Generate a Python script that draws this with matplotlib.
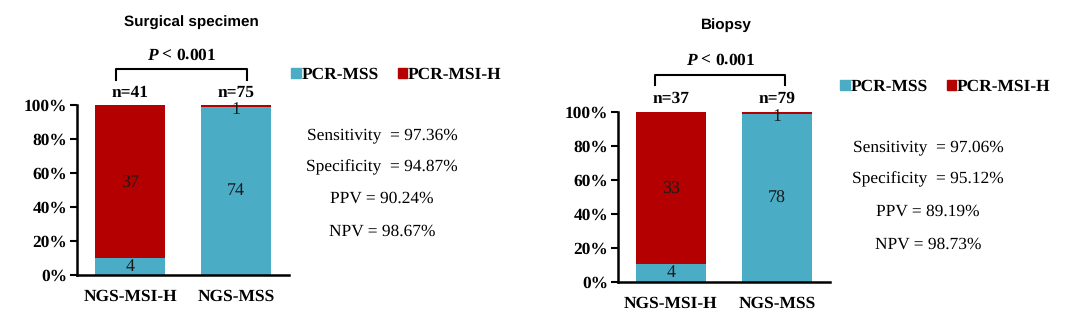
import numpy as np
import matplotlib
matplotlib.use('Agg')
import matplotlib.pyplot as plt
from matplotlib.patches import Patch

plt.rcParams['text.hinting'] = 'no_hinting'
plt.rcParams['mathtext.fontset'] = 'custom'
plt.rcParams['mathtext.bfit'] = 'Liberation Serif:bold:italic'
plt.rcParams['mathtext.it'] = 'Liberation Serif:bold:italic'

# dados
grupos = ['NGS-MSI-H', 'NGS-MSS']
cirurgia_mss = [4, 74]
cirurgia_msi = [37, 1]
biopsia_mss = [4, 78]
biopsia_msi = [33, 1]
titulos = ['Surgical specimen', 'Biopsy']
estat_cirurgia = ['Sensitivity  = 97.36%', 'Specificity  = 94.87%', 'PPV = 90.24%', 'NPV = 98.67%']
estat_biopsia = ['Sensitivity  = 97.06%', 'Specificity  = 95.12%', 'PPV = 89.19%', 'NPV = 98.73%']

AZUL = '#4BACC6'
VERMELHO = '#B40000'
SERIF = 'Liberation Serif'
TAM = 12.5

fig = plt.figure(figsize=(10.8, 3.26), dpi=100)

paineis = [
    dict(pos=[77/1080, 51/326, 212/1080, 170/326], mss=cirurgia_mss, msi=cirurgia_msi,
         titulo=titulos[0], ty=148, tx=0.58, py=129, by=(121, 115), bx=(-0.13, 1.1), ny=107,
         leg=(291/1080, 1 - 75/326), est=estat_cirurgia, ex=382, ey=[135, 167, 199, 232]),
    dict(pos=[618/1080, 44/326, 212/1080, 170/326], mss=biopsia_mss, msi=biopsia_msi,
         titulo=titulos[1], ty=151, tx=0.52, py=130, by=(122, 116), bx=(-0.15, 1.08), ny=108,
         leg=(840/1080, 1 - 87/326), est=estat_biopsia, ex=928, ey=[147, 179, 212, 245]),
]

for p in paineis:
    ax = fig.add_axes(p['pos'])
    mss = np.array(p['mss'], dtype=float)
    msi = np.array(p['msi'], dtype=float)
    total = mss + msi
    pct_mss = mss / total * 100
    pct_msi = msi / total * 100
    x = np.arange(len(grupos))
    ax.bar(x, pct_mss, width=0.66, color=AZUL, label='PCR-MSS')
    ax.bar(x, pct_msi, width=0.66, bottom=pct_mss, color=VERMELHO, label='PCR-MSI-H')

    # números dentro das barras
    for i in range(len(grupos)):
        ax.text(x[i], pct_mss[i] / 2, f'{int(mss[i])}', ha='center', va='center',
                family=SERIF, fontsize=TAM + 0.5, color='#1a1a1a')
        deslocamento = -2 if pct_msi[i] < 5 else -1
        ax.text(x[i], pct_mss[i] + pct_msi[i] / 2 + deslocamento, f'{int(msi[i])}',
                ha='center', va='center', family=SERIF, fontsize=TAM + 0.5, color='#1a1a1a')
        ax.text(x[i], p['ny'], f'n={int(total[i])}', ha='center', va='center',
                family=SERIF, fontsize=TAM, fontweight='bold', clip_on=False)

    ax.set_xlim(-0.5, 1.5)
    ax.set_ylim(0, 100)
    ax.set_yticks([0, 20, 40, 60, 80, 100])
    ax.set_yticklabels([f'{v}%' for v in [0, 20, 40, 60, 80, 100]],
                       family=SERIF, fontsize=TAM, fontweight='bold')
    ax.set_xticks(x)
    ax.set_xticklabels(grupos, family=SERIF, fontsize=TAM, fontweight='bold')
    ax.tick_params(axis='x', length=0, pad=10)
    ax.tick_params(axis='y', length=5, width=1.5, pad=2)
    for lado in ['top', 'right']:
        ax.spines[lado].set_visible(False)
    for lado in ['left', 'bottom']:
        ax.spines[lado].set_linewidth(1.8)

    # colchete e valor de P
    b0, b1 = p['bx']
    yt, yb = p['by']
    ax.plot([b0, b0, b1, b1], [yb, yt, yt, yb], color='black', lw=1.5, clip_on=False)
    ax.text((b0 + b1) / 2, p['py'], r'$P$ < 0.001', ha='center', va='center',
            family=SERIF, fontsize=TAM, fontweight='bold', clip_on=False)
    ax.text(p['tx'], p['ty'], p['titulo'], ha='center', va='center',
            family='Liberation Sans', fontsize=11, fontweight='bold', clip_on=False)

    # legenda
    handles = [Patch(color=AZUL, label='PCR-MSS'), Patch(color=VERMELHO, label='PCR-MSI-H')]
    fig.legend(handles=handles, loc='center left', bbox_to_anchor=p['leg'], ncol=2,
               frameon=False, handlelength=0.55, handleheight=0.55, handletextpad=0.05,
               columnspacing=1.1, borderpad=0, borderaxespad=0,
               prop=dict(family=SERIF, size=TAM, weight='bold'))

    # estatísticas
    for texto, yy in zip(p['est'], p['ey']):
        fig.text(p['ex'] / 1080, 1 - yy / 326, texto, ha='center', va='center',
                 family=SERIF, fontsize=TAM)

fig.savefig('out.png', dpi=100)
